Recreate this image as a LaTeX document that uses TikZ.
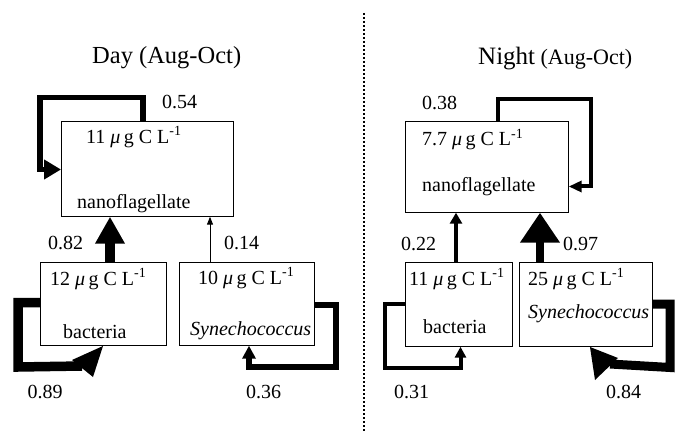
\documentclass[tikz,border=0pt]{standalone}
\usepackage{fontspec}
\setmainfont{Liberation Serif}
\usetikzlibrary{arrows.meta}

% biomass label: value, then "μg C L^-1"
\newcommand{\biomass}[1]{#1 {\itshape μ}\,g C L\textsuperscript{-1}}

\begin{document}
\begin{tikzpicture}[x=1pt,y=-1pt,
  box/.style={draw, line width=0.7pt, inner sep=0pt, anchor=north west},
  txt/.style={anchor=base west, inner sep=0pt, font=\fontsize{20}{24}\selectfont},
  num/.style={anchor=base, inner sep=0pt, font=\fontsize{20}{24}\selectfont},
  flow/.style={line join=miter, line cap=butt},
  headfill/.style={fill=black, draw=none}
]
\useasboundingbox (0,0) rectangle (675,433);

% ---------- titles and divider ----------
\node[anchor=base west, inner sep=0pt, font=\fontsize{24.5}{28}\selectfont] (tday) at (92,64) {Day (Aug-Oct)};
\node[anchor=base west, inner sep=0pt] (tnight) at (478,65)
  {{\fontsize{25}{28}\selectfont Night}\hspace{5.5pt}{\fontsize{22}{26}\selectfont (Aug-Oct)}};
\draw[line width=2pt, dash pattern=on 2pt off 2pt] (364,13) -- (364,433);

% ---------- day boxes ----------
\node[box, minimum width=172pt, minimum height=95pt] (nanoD) at (61,121) {};
\node[box, minimum width=126pt, minimum height=83pt] (bacD) at (40,262) {};
\node[box, minimum width=135pt, minimum height=83pt] (synD) at (179,262) {};

\node[txt] (nanoDa) at (86,143.5) {\biomass{11}};
\node[txt] (nanoDb) at (77,208) {nanoflagellate};
\node[txt] (bacDa) at (50,285) {\biomass{12}};
\node[txt] (bacDb) at (63,338) {bacteria};
\node[txt] (synDa) at (198,284) {\biomass{10}};
\node[txt] (synDb) at (190,335) {\itshape Synechococcus};

% ---------- night boxes ----------
\node[box, minimum width=163pt, minimum height=91pt] (nanoN) at (405,121) {};
\node[box, minimum width=107pt, minimum height=84pt] (bacN) at (405,262) {};
\node[box, minimum width=133pt, minimum height=84pt] (synN) at (519,262) {};

\node[txt] (nanoNa) at (422,146) {\biomass{7.7}};
\node[txt] (nanoNb) at (422,192) {nanoflagellate};
\node[txt] (bacNa) at (409,285) {\biomass{11}};
\node[txt] (bacNb) at (423,333) {bacteria};
\node[txt] (synNa) at (528,285) {\biomass{25}};
\node[txt] (synNb) at (528,318) {\itshape Synechococcus};

% ---------- day flows ----------
% nanoflagellate self loop
\draw[flow, line width=5.5pt, -{Triangle[width=19pt,length=17pt]}]
  (143,0 |- nanoD.north) -- (143,97.5) -- (40,97.5) -- (40,169.5) -- (nanoD.west |- 0,169.5);
% bacteria -> nanoflagellate
\draw[flow, line width=9.5pt, -{Triangle[width=28pt,length=27pt]}]
  (bacD.north -| 110,0) -- (nanoD.south -| 110,0);
% Synechococcus -> nanoflagellate
\draw[flow, line width=1pt, -{Triangle[width=6pt,length=8pt]}]
  (synD.north -| 210,0) -- (nanoD.south -| 210,0);
% bacteria self loop (tilted head)
\coordinate (tipBD) at (103,346);
\draw[flow, line width=9.5pt]
  (bacD.west |- 0,302.5) -- (18,302.5) -- (18,367) -- (82,366);
\fill[headfill] (tipBD) -- (72,360) -- (93,377) -- cycle;
% Synechococcus self loop
\draw[flow, line width=6pt, -{Triangle[width=13pt,length=13pt]}]
  (synD.east |- 0,305) -- (336,305) -- (336,366.5) -- (249,366.5) -- (synD.south -| 249,0);

% ---------- night flows ----------
% nanoflagellate self loop
\draw[flow, line width=4pt, -{Triangle[width=11pt,length=13pt]}]
  (497.5,0 |- nanoN.north) -- (497.5,99.5) -- (590.5,99.5) -- (590.5,186.5) -- (nanoN.east |- 0,186.5);
% bacteria -> nanoflagellate
\draw[flow, line width=4pt, -{Triangle[width=12pt,length=11pt]}]
  (bacN.north -| 456,0) -- (nanoN.south -| 456,0);
% Synechococcus -> nanoflagellate
\draw[flow, line width=8pt, -{Triangle[width=38pt,length=30pt]}]
  (synN.north -| 540,0) -- (nanoN.south -| 540,0);
% bacteria self loop
\draw[flow, line width=4pt, -{Triangle[width=11pt,length=11pt]}]
  (bacN.west |- 0,304) -- (384.5,304) -- (384.5,367.5) -- (460.5,367.5) -- (bacN.south -| 460.5,0);
% Synechococcus self loop (tilted head)
\coordinate (tipSN) at (590,347);
\draw[flow, line width=9pt]
  (synN.east |- 0,304) -- (670,304) -- (670,367.5) -- (610,364);
\fill[headfill] (tipSN) -- (595,380) -- (618,358) -- cycle;

% ---------- flow values ----------
\node[num] (v054) at (179.5,109) {0.54};
\node[num] (v082) at (65.5,249) {0.82};
\node[num] (v014) at (241.5,249) {0.14};
\node[num] (v089) at (45,398) {0.89};
\node[num] (v036) at (263.5,398) {0.36};
\node[num] (v038) at (439.5,110) {0.38};
\node[num] (v022) at (418.5,250) {0.22};
\node[num] (v097) at (580.5,250) {0.97};
\node[num] (v031) at (411.5,398) {0.31};
\node[num] (v084) at (623.5,398) {0.84};
\end{tikzpicture}
\end{document}
